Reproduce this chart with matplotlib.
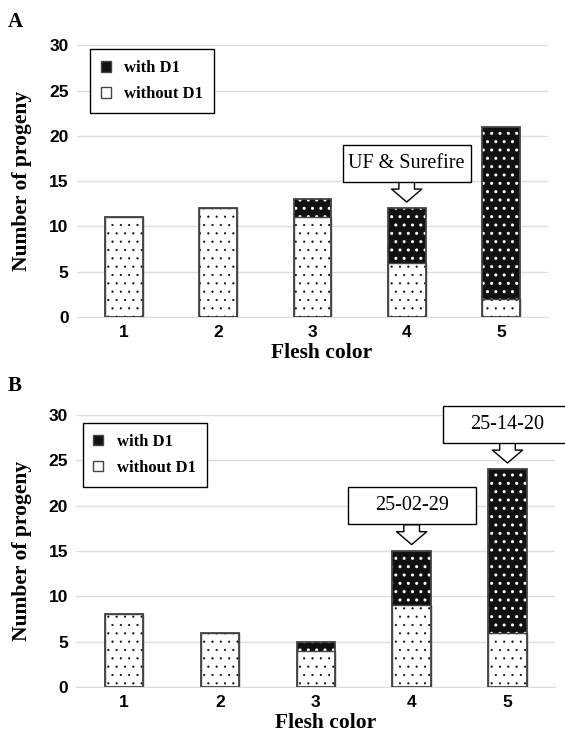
import matplotlib.pyplot as plt
import numpy as np
from matplotlib.patches import Patch
from matplotlib.path import Path

flesh = [1, 2, 3, 4, 5]
a_without = [11, 12, 11, 6, 2]
a_with = [0, 0, 2, 6, 19]
b_without = [8, 6, 4, 9, 6]
b_with = [0, 0, 1, 6, 18]
a_notes = {4: "UF & Surefire"}
b_notes = {4: "25-02-29", 5: "25-14-20"}

serif = "Liberation Serif"
sans = "Liberation Sans"

fig = plt.figure(figsize=(5.65, 7.41), dpi=100)
axA = fig.add_axes([0.136, 0.572, 0.834, 0.367])
axB = fig.add_axes([0.135, 0.073, 0.848, 0.367])


# fixed size callout box (same size for every label, like the original)
def callout_box(x0, y0, width, height, mutation_size):
    cx = x0 + width / 2
    cy = y0 + height / 2
    w = 128 * fig.dpi / 100 / 2
    h = 37 * fig.dpi / 100 / 2
    return Path([(cx - w, cy - h), (cx + w, cy - h), (cx + w, cy + h), (cx - w, cy + h), (cx - w, cy - h)],
                closed=True)


def panel(ax, without, withd, notes, leg_anchor):
    x = np.array(flesh)
    w = 0.4
    # without D1: white with sparse black dots
    plt.rcParams['hatch.linewidth'] = 0.3
    ax.bar(x, without, w, color="white", edgecolor="black", hatch="..", linewidth=0, zorder=2)
    # with D1: dark with white dots
    plt.rcParams['hatch.linewidth'] = 1.0
    ax.bar(x, withd, w, bottom=without, color="#111111", edgecolor="white", hatch="..", linewidth=0, zorder=2)
    ax.bar(x, np.array(without) + np.array(withd), w, fill=False, edgecolor="#444444", linewidth=1.3, zorder=3)
    ax.bar(x, without, w, fill=False, edgecolor="#444444", linewidth=1.0, zorder=3)

    ax.set_ylim(0, 30)
    ax.set_xlim(0.5, 5.5)
    ax.set_yticks(range(0, 31, 5))
    ax.set_xticks(x)
    ax.grid(axis="y", color="#dddddd", linewidth=1, zorder=0)
    ax.set_axisbelow(True)
    for s in ["top", "right", "left"]:
        ax.spines[s].set_visible(False)
    ax.spines["bottom"].set_color("#dddddd")
    ax.tick_params(length=0, labelsize=12.5, pad=6)
    for lab in ax.get_xticklabels() + ax.get_yticklabels():
        lab.set_fontfamily(sans)
        lab.set_fontweight("bold")
    ax.set_ylabel("Number of progeny", fontfamily=serif, fontweight="bold", fontsize=15.5, labelpad=12)
    ax.set_xlabel("Flesh color", fontfamily=serif, fontweight="bold", fontsize=15.5, labelpad=2, x=0.52)

    handles = [Patch(facecolor="#111111", edgecolor="#444444"),
               Patch(facecolor="white", edgecolor="#444444")]
    leg = ax.legend(handles, ["with D1", "without D1"], loc="upper left", bbox_to_anchor=leg_anchor,
                    prop={"family": serif, "weight": "bold", "size": 12}, fancybox=False,
                    edgecolor="black", framealpha=1, handlelength=0.6, handleheight=0.6,
                    borderpad=0.65, labelspacing=0.6, handletextpad=0.8, borderaxespad=0)
    leg.get_frame().set_linewidth(1.0)

    for k, txt in notes.items():
        i = flesh.index(k)
        top = without[i] + withd[i]
        ax.annotate(txt, xy=(k, top + 0.7), xytext=(0, 28), textcoords="offset points",
                    ha="center", va="center", fontfamily=serif, fontsize=14.5,
                    bbox=dict(boxstyle=callout_box, fc="white", ec="black", lw=1.0),
                    arrowprops=dict(arrowstyle="simple,head_length=0.62,head_width=1.45,tail_width=0.75",
                                    fc="white", ec="black", lw=1.0, mutation_scale=15,
                                    shrinkA=0, shrinkB=0),
                    zorder=5, annotation_clip=False)


panel(axA, a_without, a_with, a_notes, (0.028, 0.985))
panel(axB, b_without, b_with, b_notes, (0.013, 0.97))

fig.text(0.014, 0.963, "A", fontfamily=serif, fontweight="bold", fontsize=15)
fig.text(0.014, 0.472, "B", fontfamily=serif, fontweight="bold", fontsize=15)

fig.savefig("out.png", dpi=100)
